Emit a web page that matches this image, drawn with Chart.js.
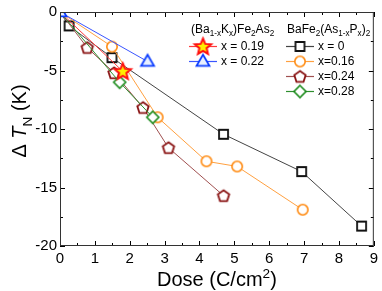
<!DOCTYPE html>
<html lang="en">
  <head>
    <meta charset="UTF-8" />
    <title>Delta TN vs dose</title>
    <style>
      body { margin: 0; background: #fff; }
      #wrap { width: 382px; height: 291px; }
    </style>
  </head>
  <body>
    <div id="wrap"><canvas id="myChart" width="382" height="291"></canvas></div>

    <script src="https://cdn.jsdelivr.net/npm/chart.js"></script>

    <script>
      // ---- data ----
      const xTicks = [0, 1, 2, 3, 4, 5, 6, 7, 8, 9];
      const yTicks = [-20, -15, -10, -5, 0];

      // (Ba1-xKx)Fe2As2
      const doseK19 = [0, 1.8];
      const dTK19 = [0, -5.07];
      const doseK22 = [0, 2.51];
      const dTK22 = [0, -4.23];

      // BaFe2(As1-xPx)2
      const doseP0 = [0, 0.26, 1.49, 4.69, 6.93, 8.65];
      const dTP0 = [0, -1.19, -3.9, -10.45, -13.64, -18.3];
      const doseP16 = [0, 1.49, 2.8, 4.2, 5.08, 6.96];
      const dTP16 = [0, -2.96, -9.0, -12.76, -13.2, -16.9];
      const doseP24 = [0, 0.78, 1.55, 2.38, 3.11, 4.69];
      const dTP24 = [0, -3.04, -5.2, -8.17, -11.6, -15.7];
      const doseP28 = [0, 1.71, 2.66];
      const dTP28 = [0, -6.0, -9.0];

      const labelsK = ["x = 0.19", "x = 0.22"];
      const labelsP = ["x = 0", "x=0.16", "x=0.24", "x=0.28"];

      const FONT = "'Liberation Sans', Arial, Helvetica, sans-serif";

      // marker images, so the legend can reuse the same ones
      function marker(kind, stroke, fill, r, lw) {
        const c = document.createElement("canvas");
        const s = Math.ceil(2 * r + lw + 4);
        c.width = s;
        c.height = s;
        const g = c.getContext("2d");
        const m = s / 2;
        g.strokeStyle = stroke;
        g.fillStyle = fill;
        g.lineWidth = lw;
        g.lineJoin = "miter";
        g.beginPath();
        if (kind === "square") {
          g.rect(m - r, m - r, 2 * r, 2 * r);
        } else if (kind === "circle") {
          g.arc(m, m, r, 0, Math.PI * 2);
        } else if (kind === "diamond") {
          g.moveTo(m, m - r);
          g.lineTo(m + r, m);
          g.lineTo(m, m + r);
          g.lineTo(m - r, m);
          g.closePath();
        } else if (kind === "triangle") {
          g.moveTo(m, m - r);
          g.lineTo(m + r * 0.95, m + r * 0.65);
          g.lineTo(m - r * 0.95, m + r * 0.65);
          g.closePath();
        } else if (kind === "pentagon" || kind === "star") {
          const n = kind === "star" ? 10 : 5;
          for (let i = 0; i < n; i++) {
            const a = -Math.PI / 2 + (i * 2 * Math.PI) / n;
            const rr = kind === "star" && i % 2 ? r * 0.45 : r;
            const px = m + rr * Math.cos(a);
            const py = m + 0.5 + rr * Math.sin(a);
            if (i === 0) g.moveTo(px, py);
            else g.lineTo(px, py);
          }
          g.closePath();
        }
        g.fill();
        g.stroke();
        return c;
      }

      const mStar = marker("star", "#ff1010", "#ffee00", 8.5, 2);
      const mTri = marker("triangle", "#0a3cff", "#e8f0ff", 6.8, 1.8);
      const mSquare = marker("square", "#111", "#fff", 4.5, 1.8);
      const mCircle = marker("circle", "#ff8a10", "#fff", 5.2, 1.6);
      const mPent = marker("pentagon", "#8a1414", "#fff", 6, 1.8);
      const mDiam = marker("diamond", "#1e8c1e", "#fff", 6, 1.6);

      function pts(xs, ys) {
        return xs.map((v, i) => ({ x: v, y: ys[i] }));
      }

      const noOrigin = (c) => (c.dataIndex === 0 ? 0 : 5);

      const dsK = [
        { data: pts(doseK19, dTK19), borderColor: "#ff3a3a", pointStyle: mStar, order: 1 },
        { data: pts(doseK22, dTK22), borderColor: "#3a55ff", pointStyle: mTri, order: 0, clip: 0, pointRadius: 5 },
      ];
      const dsP = [
        { data: pts(doseP0, dTP0), borderColor: "#444", pointStyle: mSquare, order: 5 },
        { data: pts(doseP16, dTP16), borderColor: "#ffa040", pointStyle: mCircle, order: 4 },
        { data: pts(doseP24, dTP24), borderColor: "#a05050", pointStyle: mPent, order: 3 },
        { data: pts(doseP28, dTP28), borderColor: "#2f8f2f", pointStyle: mDiam, order: 2 },
      ];
      const datasets = dsK.concat(dsP).map((d) =>
        Object.assign({ showLine: true, borderWidth: 1, pointRadius: noOrigin }, d)
      );

      // draws text with sub/superscript pieces: [text, "n" | "sub" | "sup" | "i"]
      function rich(ctx, x, y, parts, size) {
        let cx = x;
        for (const [t, k] of parts) {
          const small = k === "sub" || k === "sup";
          const fs = small ? size * 0.68 : size;
          ctx.font = (k === "i" ? "italic " : "") + fs + "px " + FONT;
          const dy = k === "sub" ? size * 0.28 : k === "sup" ? -size * 0.38 : 0;
          ctx.fillText(t, cx, y + dy);
          cx += ctx.measureText(t).width;
        }
        return cx - x;
      }
      function richWidth(ctx, parts, size) {
        let w = 0;
        for (const [t, k] of parts) {
          const small = k === "sub" || k === "sup";
          ctx.font = (k === "i" ? "italic " : "") + (small ? size * 0.68 : size) + "px " + FONT;
          w += ctx.measureText(t).width;
        }
        return w;
      }

      const decor = {
        id: "decor",
        afterDatasetsDraw(chart) {
          const { ctx, chartArea: a, scales } = chart;
          const x = scales.x, y = scales.y;
          ctx.save();
          ctx.strokeStyle = "#000";
          ctx.lineWidth = 1;
          ctx.beginPath();
          for (let v = 0; v <= 9; v += 0.5) {
            const px = Math.round(x.getPixelForValue(v)) + 0.5;
            const len = v % 1 === 0 ? 5 : 3;
            ctx.moveTo(px, a.bottom); ctx.lineTo(px, a.bottom - len);
            ctx.moveTo(px, a.top); ctx.lineTo(px, a.top + len);
          }
          for (let v = -20; v <= 0; v += 2.5) {
            const py = Math.round(y.getPixelForValue(v)) + 0.5;
            const len = v % 5 === 0 ? 5 : 3;
            ctx.moveTo(a.left, py); ctx.lineTo(a.left + len, py);
            ctx.moveTo(a.right, py); ctx.lineTo(a.right - len, py);
          }
          ctx.stroke();
          ctx.strokeStyle = "#333";
          ctx.strokeRect(a.left + 0.5, a.top + 0.5, a.width - 1, a.height - 1);
          ctx.restore();
        },
        afterDraw(chart) {
          const { ctx, chartArea: a } = chart;
          ctx.save();
          ctx.fillStyle = "#000";
          ctx.textBaseline = "alphabetic";

          // axis titles
          const xt = [["Dose (C/cm", "n"], ["2", "sup"], [")", "n"]];
          const cx = (a.left + a.right) / 2;
          rich(ctx, cx - richWidth(ctx, xt, 20) / 2, 286, xt, 20);

          const yt = [["\u0394 ", "n"], ["T", "i"], ["N", "sub"], [" (K)", "n"]];
          ctx.save();
          ctx.translate(26, 121);
          ctx.rotate(-Math.PI / 2);
          rich(ctx, -richWidth(ctx, yt, 20) / 2, 0, yt, 20);
          ctx.restore();

          // legend
          const t1 = [["(Ba", "n"], ["1-x", "sub"], ["K", "n"], ["x", "sub"], [")Fe", "n"], ["2", "sub"], ["As", "n"], ["2", "sub"]];
          const t2 = [["BaFe", "n"], ["2", "sub"], ["(As", "n"], ["1-x", "sub"], ["P", "n"], ["x", "sub"], [")", "n"], ["2", "sub"]];
          rich(ctx, 191, 33, t1, 12);
          rich(ctx, 287, 33, t2, 12);

          function entry(ds, label, x0, yc) {
            ctx.strokeStyle = ds.borderColor;
            ctx.lineWidth = 1.2;
            ctx.beginPath();
            ctx.moveTo(x0, yc + 0.5);
            ctx.lineTo(x0 + 28, yc + 0.5);
            ctx.stroke();
            const img = ds.pointStyle;
            ctx.drawImage(img, x0 + 14 - img.width / 2, yc - img.height / 2 + 0.5);
            ctx.font = "12px " + FONT;
            ctx.textBaseline = "middle";
            ctx.fillStyle = "#000";
            ctx.fillText(label, x0 + 32, yc + 1);
          }
          labelsK.forEach((l, i) => entry(dsK[i], l, 189, 46 + i * 15));
          labelsP.forEach((l, i) => entry(dsP[i], l, 286, 46 + i * 15));
          ctx.restore();
        },
      };

      Chart.defaults.font.family = FONT;
      Chart.defaults.color = "#000";

      const ctx = document.getElementById("myChart").getContext("2d");
      const myChart = new Chart(ctx, {
        type: "scatter",
        data: { datasets: datasets },
        options: {
          responsive: false,
          animation: false,
          layout: { padding: { top: 10, right: 7, left: 0, bottom: 0 } },
          plugins: { legend: { display: false }, tooltip: { enabled: false } },
          scales: {
            x: {
              type: "linear",
              min: 0,
              max: 9,
              afterBuildTicks: (s) => { s.ticks = xTicks.map((v) => ({ value: v })); },
              afterFit: (s) => { s.height = 45; },
              grid: { display: false, drawTicks: false },
              border: { display: false },
              ticks: { font: { size: 15 }, padding: 4, maxRotation: 0 },
            },
            y: {
              type: "linear",
              min: -20,
              max: 0,
              afterBuildTicks: (s) => { s.ticks = yTicks.map((v) => ({ value: v })); },
              afterFit: (s) => { s.width = 60; },
              grid: { display: false, drawTicks: false },
              border: { display: false },
              ticks: { font: { size: 15 }, padding: 3 },
            },
          },
        },
        plugins: [decor],
      });
    </script>
  </body>
</html>
